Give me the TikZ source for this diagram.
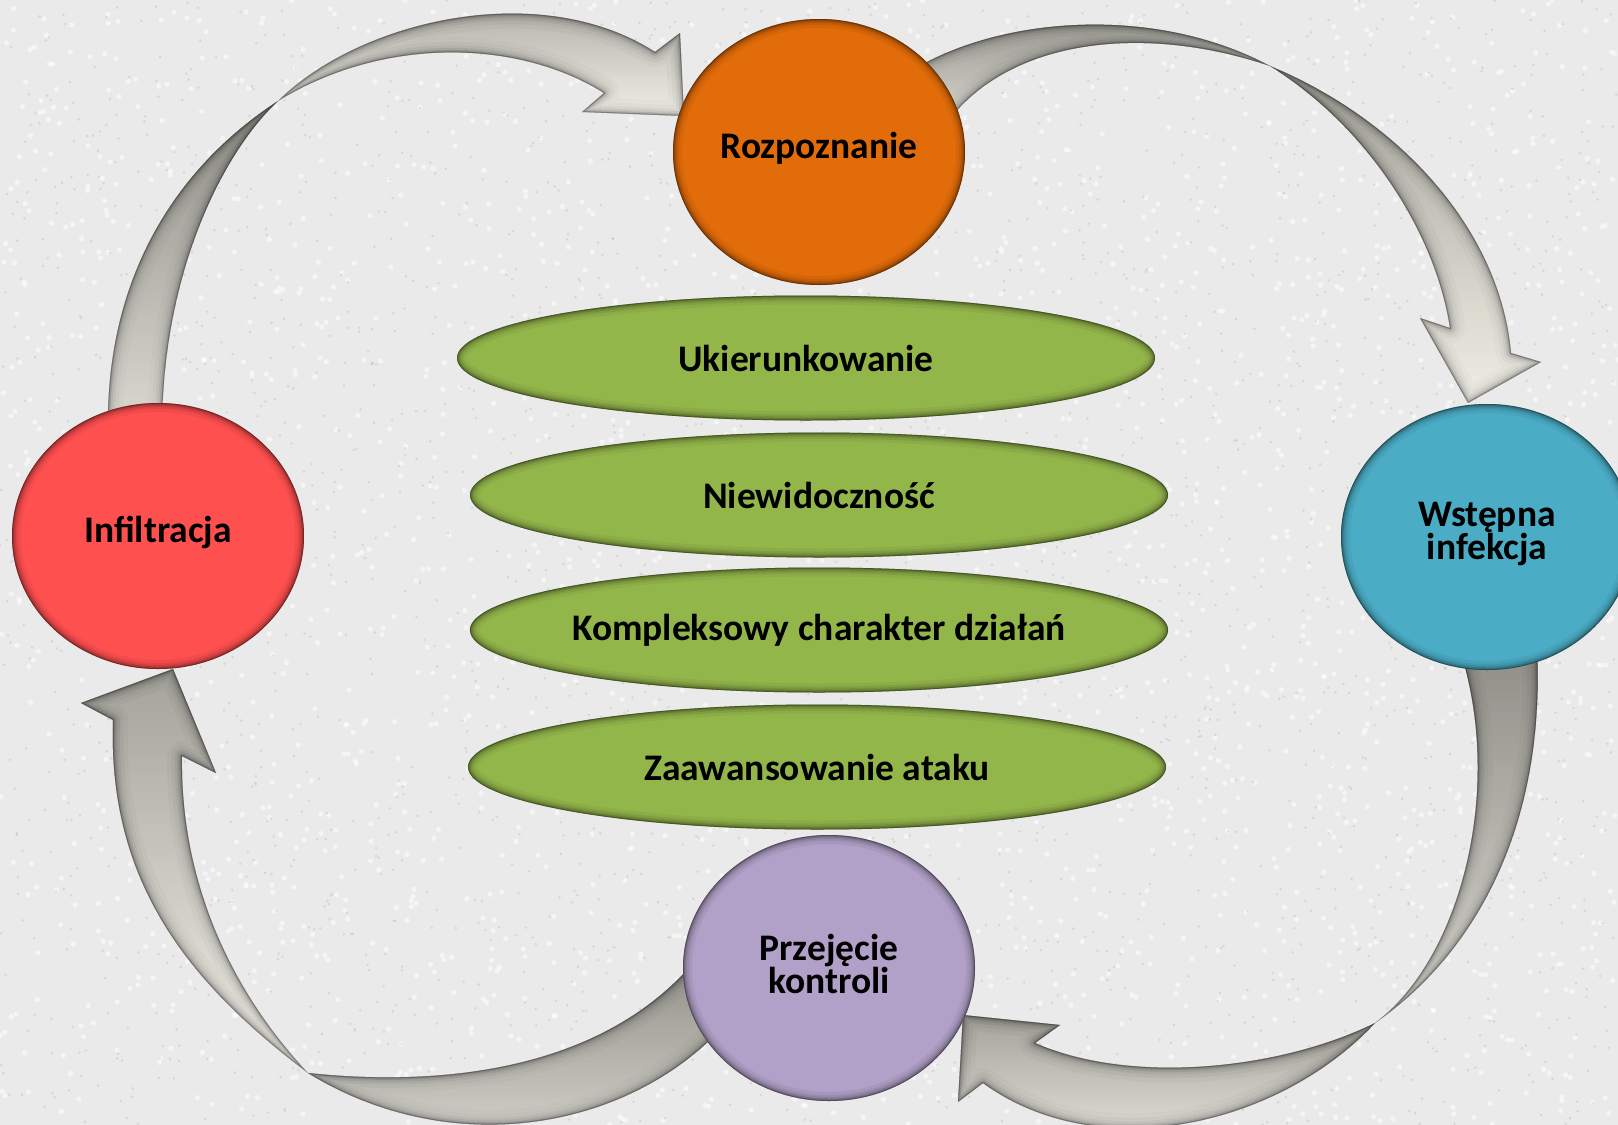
\documentclass[tikz,border=0pt]{standalone}
\usepackage{fontspec}
\setmainfont{Carlito}
\usetikzlibrary{shapes.geometric}

\definecolor{paper}{HTML}{EAEAEA}
\definecolor{speckdark}{HTML}{A8A8A8}
\definecolor{bandfront}{HTML}{DEDAC4}
\definecolor{bandback}{HTML}{ABA895}
\definecolor{shade}{HTML}{26241B}
\definecolor{orangeC}{HTML}{E36C0A}
\definecolor{blueC}{HTML}{4BACC6}
\definecolor{redC}{HTML}{FF5050}
\definecolor{purpleC}{HTML}{B1A0C7}
\definecolor{greenC}{HTML}{93B64B}

% filled region with a soft dark rim along its inside
\newcommand\insetfill[2]{%
  \begin{scope}
    \clip #2;
    \fill[#1] #2;
    \foreach \w/\o in {30/0.05,21/0.07,14/0.1,9/0.13,5/0.18,2/0.28}{%
      \draw[shade,opacity=\o,line width=\w pt,line join=round] #2;}
  \end{scope}}

\tikzset{
  rim/.style 2 args={path picture={%
    \foreach \w/\o in {18/0.05,12/0.07,8/0.09,5/0.12,2.5/0.18,1/0.25}{%
      \draw[black,opacity=\o,line width=\w pt]
        (path picture bounding box.center) ellipse [x radius=#1, y radius=#2];}}},
  circ/.style={ellipse, minimum width=292pt, minimum height=266pt,
    inner sep=0pt, rim={146pt}{133pt}},
  oval/.style={ellipse, fill=greenC, minimum width=698pt, minimum height=125pt,
    inner sep=0pt, rim={349pt}{62.5pt}, font=\fontsize{37.5}{37.5}\selectfont\bfseries},
  lbl/.style={inner sep=0pt, align=center, font=\fontsize{37.5}{27}\selectfont\bfseries},
}

\begin{document}
\begin{tikzpicture}[x=1pt,y=-1pt]
  \fill[paper] (0,0) rectangle (1618,1125);
  \useasboundingbox (0,0) rectangle (1618,1125);

  % granite-like paper texture
  \pgfmathsetseed{4711}
  \foreach \i in {1,...,2500}{%
    \pgfmathsetmacro\px{rnd*1618}\pgfmathsetmacro\py{rnd*1125}%
    \fill[white,opacity=0.55] (\px,\py) circle (2.6);}
  \foreach \i in {1,...,2500}{%
    \pgfmathsetmacro\px{rnd*1618}\pgfmathsetmacro\py{rnd*1125}%
    \fill[speckdark,opacity=0.3] (\px,\py) circle (1.4);}

  % curved arrows of the cycle: twisted back part, then front part with head
  \insetfill{bandback}{(108,430) .. controls (106,290) and (165,175) .. (278,101)
     .. controls (225,150) and (162,270) .. (162,430) -- cycle}
  \insetfill{bandfront}{(278,101) .. controls (360,20) and (540,-22) .. (655,52)
     -- (680,33) -- (684,116) -- (582,112) -- (604,93)
     .. controls (520,40) and (385,35) .. (278,101) -- cycle}

  \insetfill{bandback}{(905,75) .. controls (990,18) and (1150,2) .. (1270,66)
     .. controls (1150,25) and (1010,35) .. (945,125) -- cycle}
  \insetfill{bandfront}{(1270,66) .. controls (1400,120) and (1500,230) .. (1511,353)
     -- (1541,362) -- (1468,403) -- (1420,318) -- (1450,328)
     .. controls (1435,230) and (1365,125) .. (1270,66) -- cycle}

  \insetfill{bandback}{(1537,650) .. controls (1545,820) and (1480,950) .. (1375,1023)
     .. controls (1460,960) and (1505,790) .. (1460,650) -- cycle}
  \insetfill{bandfront}{(1375,1023) .. controls (1280,1125) and (1100,1168) .. (983,1083)
     -- (958,1102) -- (963,1015) -- (1060,1025) -- (1035,1043)
     .. controls (1130,1085) and (1280,1070) .. (1375,1023) -- cycle}

  \insetfill{bandback}{(715,1035) .. controls (620,1130) and (450,1160) .. (308,1073)
     .. controls (420,1085) and (600,1080) .. (700,955) -- cycle}
  \insetfill{bandfront}{(308,1073) .. controls (185,980) and (108,880) .. (113,720)
     -- (81,703) -- (173,669) -- (216,773) -- (182,756)
     .. controls (180,880) and (230,990) .. (308,1073) -- cycle}

  % stages
  \node[circ, fill=orangeC] (roz) at (819,152) {};
  \node[circ, fill=blueC]   (wst) at (1487,537) {};
  \node[circ, fill=purpleC] (prz) at (829,968) {};
  \node[circ, fill=redC]    (inf) at (158,536) {};

  \node[lbl] (rozT) at ([yshift=4pt]roz.center) {Rozpoznanie};
  \node[lbl] (wstT) at ([yshift=3pt]wst.center) {Wstępna\\infekcja};
  \node[lbl] (przT) at ([yshift=4pt]prz.center) {Przejęcie\\kontroli};
  \node[lbl] (infT) at ([yshift=4pt]inf.center) {Infiltracja};

  % features
  \node[oval] (e1) at (806,358) {Ukierunkowanie};
  \node[oval] (e2) at (819,495) {Niewidoczność};
  \node[oval] (e3) at (819,630) {Kompleksowy charakter działań};
  \node[oval] (e4) at (817,767) {Zaawansowanie ataku};
\end{tikzpicture}
\end{document}
